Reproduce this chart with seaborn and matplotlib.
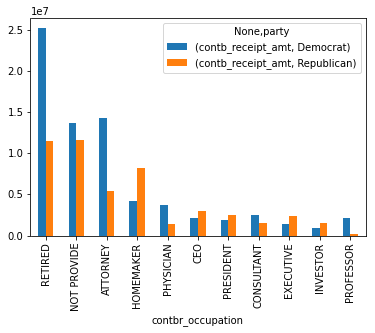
import matplotlib
matplotlib.use("Agg")
import matplotlib.pyplot as plt
import seaborn as sns
import pandas as pd

occupations = ["RETIRED", "NOT PROVIDE", "ATTORNEY", "HOMEMAKER", "PHYSICIAN", "CEO",
               "PRESIDENT", "CONSULTANT", "EXECUTIVE", "INVESTOR", "PROFESSOR"]
democrat = [25270000, 13690000, 14290000, 4250000, 3735000, 2075000,
            1879000, 2460000, 1355000, 884000, 2165000]
republican = [11490000, 11620000, 5410000, 8210000, 1400000, 2980000,
              2490000, 1520000, 2370000, 1520000, 180000]
parties = ["Democrat", "Republican"]
series_labels = ["(contb_receipt_amt, Democrat)", "(contb_receipt_amt, Republican)"]

df = pd.DataFrame({
    "contbr_occupation": occupations * 2,
    "amount": democrat + republican,
    "party": [series_labels[0]] * len(occupations) + [series_labels[1]] * len(occupations),
})

plt.rcParams["font.family"] = ["DejaVu Sans"]
plt.rcParams["font.size"] = 10

fig = plt.figure(figsize=(375 / 72, 333 / 72), dpi=72)
ax = fig.add_axes([30.5 / 375, 1 - 235.5 / 333, 335 / 375, (235.5 - 18.3) / 333])

sns.barplot(data=df, x="contbr_occupation", y="amount", hue="party",
            order=occupations, hue_order=series_labels,
            palette=["#1f77b4", "#ff7f0e"], saturation=1, width=0.5, gap=0,
            errorbar=None, ax=ax)

ax.set_xlim(-0.5, len(occupations) - 0.5)
ax.set_ylim(0, max(democrat) * 1.045)
ax.set_xlabel("contbr_occupation")
ax.set_ylabel("")
ax.tick_params(axis="x", rotation=90)
for s in ax.spines.values():
    s.set_color("black")
ax.legend(title="None,party", loc="upper right")

fig.savefig("out.png", dpi=72)
